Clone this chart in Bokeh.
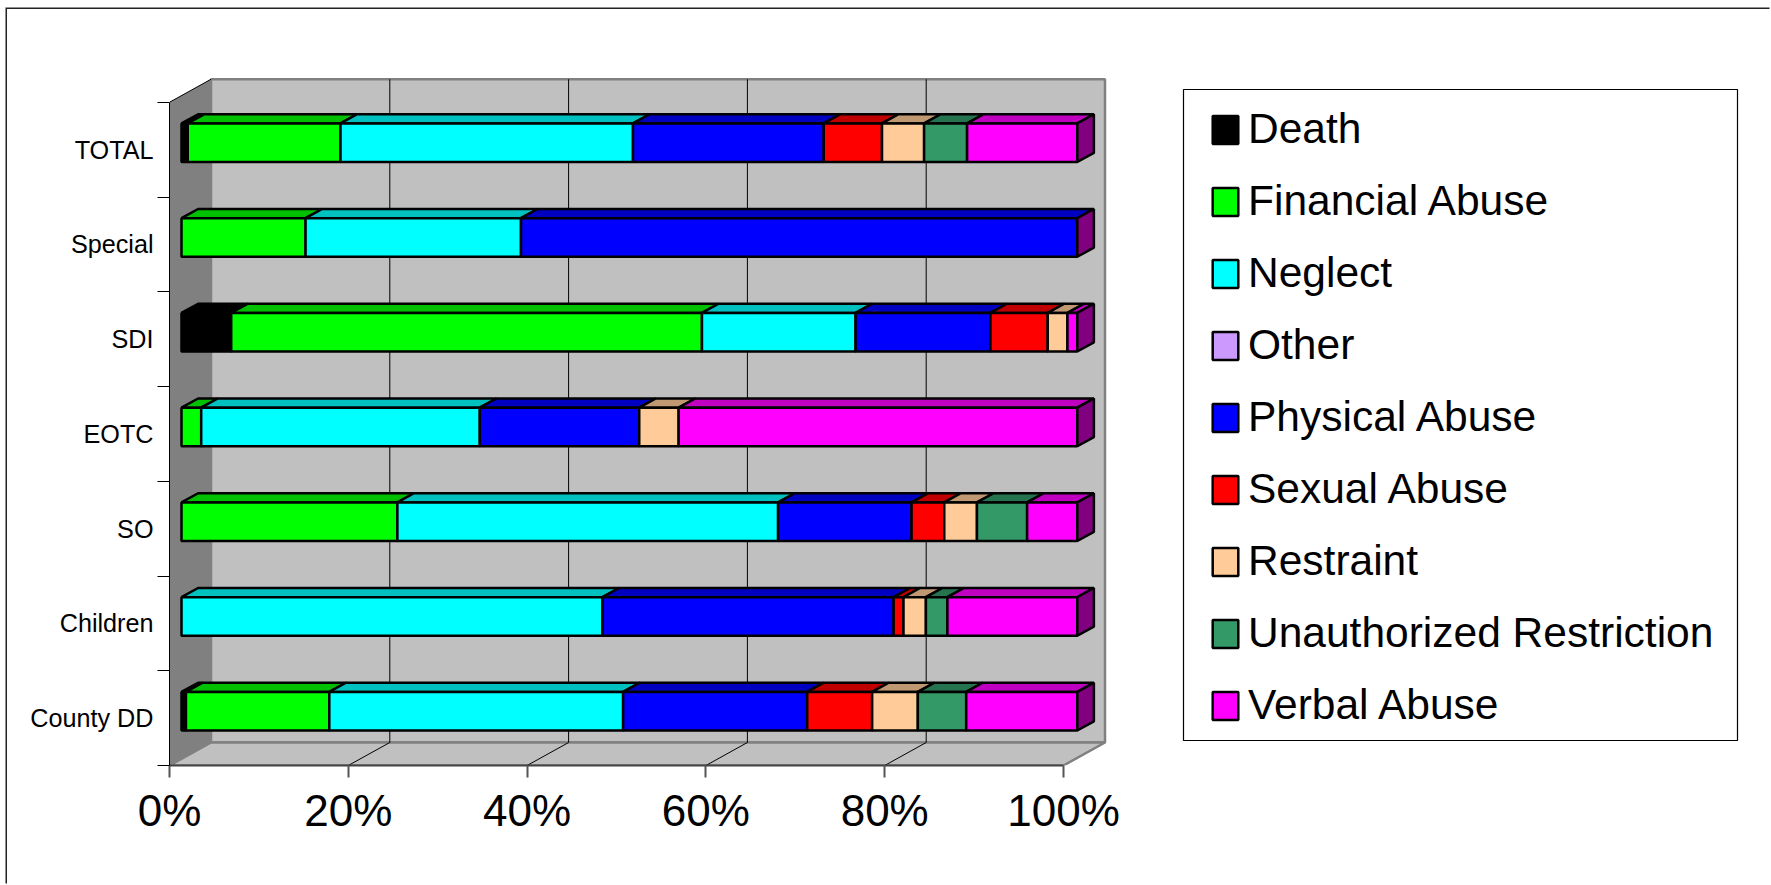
from bokeh.plotting import figure
from bokeh.embed import file_html
from bokeh.resources import INLINE
from bokeh.models import (Range1d, FixedTicker, PrintfTickFormatter, LinearAxis, Legend, LegendItem,
                          BoxAnnotation, ColumnDataSource)

categories = ["TOTAL", "Special", "SDI", "EOTC", "SO", "Children", "County DD"]
series_names = ["Death", "Financial Abuse", "Neglect", "Other", "Physical Abuse",
                "Sexual Abuse", "Restraint", "Unauthorized Restriction", "Verbal Abuse"]
death      = [0.7, 0.0, 5.55, 0.0, 0.0, 0.0, 0.5]
financial  = [17.05, 13.85, 52.55, 2.2, 24.1, 0.0, 16.0]
neglect    = [32.65, 24.05, 17.15, 31.1, 42.5, 47.0, 32.8]
other      = [0.0, 0.0, 0.0, 0.0, 0.0, 0.0, 0.0]
physical   = [21.3, 62.1, 15.05, 17.8, 14.9, 32.5, 20.55]
sexual     = [6.5, 0.0, 6.4, 0.0, 3.65, 1.1, 7.25]
restraint  = [4.7, 0.0, 2.2, 4.4, 3.65, 2.5, 5.1]
unauth     = [4.8, 0.0, 0.0, 0.0, 5.6, 2.4, 5.4]
verbal     = [12.3, 0.0, 1.1, 44.5, 5.6, 14.5, 12.4]
tick_values = [0, 20, 40, 60, 80, 100]

series_values = [death, financial, neglect, other, physical, sexual, restraint, unauth, verbal]
front_colors = ["#000000", "#00FF00", "#00FFFF", "#CC99FF", "#0000FF", "#FF0000", "#FFCC99", "#339966", "#FF00FF"]
top_colors   = ["#000000", "#00C000", "#00C0C0", "#9973C0", "#0000C0", "#C00000", "#C09973", "#267350", "#C000C0"]
SIDE = "#800080"
NAN = float("nan")

PX_X, PX_Y = 8.94, 94.75          # pixels per percent / per category band
DX, DY = 41.5 / PX_X, 23 / PX_Y   # depth of the box, in data units
HALF = 19.3 / PX_Y
BAR_SCALE = 1.002                 # the bars sit slightly nearer than the axis plane
FIG_X, FIG_Y = 7, 9               # where the figure starts on the page
W, H = 1771 - FIG_X, 885 - FIG_Y
LEFT, BASE = 169 - FIG_X, 765 - FIG_Y
n = len(categories)

p = figure(width=W, height=H, output_backend="svg", toolbar_location=None,
           x_range=Range1d(0, (W - LEFT) / PX_X), y_range=Range1d(0, BASE / PX_Y),
           x_axis_type=None, y_axis_type=None,
           min_border_left=LEFT, min_border_right=0, min_border_top=0, min_border_bottom=H - BASE,
           background_fill_color="white", border_fill_color="white", outline_line_color=None,
           margin=(FIG_Y, 0, 0, FIG_X),
           styles={"box-shadow": "-1.5px -1.5px 0 0 #222222"})
p.grid.visible = False

# ---- 3D box: back wall, left wall, floor
G = "#808080"
p.patch([DX, 100 + DX, 100 + DX, DX], [DY, DY, n + DY, n + DY], fill_color="#C0C0C0", line_color=G, line_width=2.5)
p.patch([0, DX, DX, 0], [0, DY, n + DY, n], fill_color=G, line_color=None)
p.patch([0, 100, 100 + DX, DX], [0, 0, DY, DY], fill_color="#C0C0C0", line_color=G, line_width=2.5)
p.segment([0], [n], [DX], [n + DY], line_color="#000000", line_width=1)
inner = [t for t in tick_values if 0 < t < 100]
p.segment([t + DX for t in inner], [DY] * len(inner), [t + DX for t in inner], [n + DY] * len(inner),
          line_color="#000000", line_width=1)
p.segment(inner, [0] * len(inner), [t + DX for t in inner], [DY] * len(inner), line_color="#000000", line_width=1)

# ---- bars
rows = [n - 1 - i + 0.5 for i in range(n)]
cum = [0.0] * n
items = []
ox0, oy0 = 12 / PX_X, 6.9 / PX_Y
ox1, oy1 = 28.6 / PX_X, 16.1 / PX_Y
LW = 2.5
for name, vals, fc, tc in zip(series_names, series_values, front_colors, top_colors):
    l, r, t, b, tx, ty = [], [], [], [], [], []
    for i, v in enumerate(vals):
        if v <= 0:
            l.append(NAN); r.append(NAN); t.append(NAN); b.append(NAN)
            continue
        a, z = cum[i] * BAR_SCALE, (cum[i] + v) * BAR_SCALE
        cum[i] += v
        yt = rows[i] + HALF + oy0
        yb = rows[i] - HALF + oy0
        l.append(a + ox0); r.append(z + ox0); t.append(yt); b.append(yb)
        dxx, dyy = ox1 - ox0, oy1 - oy0
        tx.append([a + ox0, z + ox0, z + ox0 + dxx, a + ox0 + dxx])
        ty.append([yt, yt, yt + dyy, yt + dyy])
    if tx:
        p.patches(tx, ty, fill_color=tc, line_color="#000000", line_width=LW)
    src = ColumnDataSource(dict(left=l, right=r, top=t, bottom=b))
    rq = p.quad(left="left", right="right", top="top", bottom="bottom", source=src, fill_color=fc,
                line_color="#000000", line_width=LW)
    items.append(LegendItem(label=name, renderers=[rq], index=0))

sx, sy = [], []
for i in range(n):
    yt = rows[i] + HALF + oy0
    yb = rows[i] - HALF + oy0
    e0 = cum[i] * BAR_SCALE + ox0
    e1 = cum[i] * BAR_SCALE + ox1
    d = oy1 - oy0
    sx.append([e0, e1, e1, e0])
    sy.append([yt, yt + d, yb + d, yb])
p.patches(sx, sy, fill_color=SIDE, line_color="#000000", line_width=LW)

# ---- axes
FONT = "Liberation Sans"
xaxis = LinearAxis(ticker=FixedTicker(ticks=tick_values, minor_ticks=[]), formatter=PrintfTickFormatter(format="%d%%"),
                   bounds=(0, 100))
xaxis.major_label_text_font = FONT
xaxis.major_label_text_font_size = "44px"
xaxis.major_label_text_color = "#000000"
xaxis.major_tick_out = 12
xaxis.major_tick_in = 0
xaxis.major_tick_line_color = "#555555"
xaxis.major_tick_line_width = 2
xaxis.axis_line_color = "#444444"
xaxis.axis_line_width = 2
xaxis.major_label_standoff = 8
p.add_layout(xaxis, "below")

yaxis = LinearAxis(ticker=FixedTicker(ticks=rows, minor_ticks=list(range(n + 1))), bounds=(0, n))
yaxis.major_label_overrides = {rows[i]: categories[i] for i in range(n)}
yaxis.major_label_text_font = FONT
yaxis.major_label_text_font_size = "25.2px"
yaxis.major_label_text_color = "#000000"
yaxis.major_tick_out = 0
yaxis.major_tick_in = 0
yaxis.minor_tick_out = 12
yaxis.minor_tick_in = 0
yaxis.minor_tick_line_color = "#000000"
yaxis.axis_line_color = "#000000"
yaxis.major_label_standoff = 4
p.add_layout(yaxis, "left")

# ---- legend box and legend
p.add_layout(BoxAnnotation(left=1183 - FIG_X, right=1737 - FIG_X, top=89 - FIG_Y, bottom=740 - FIG_Y,
                           left_units="canvas", right_units="canvas", top_units="canvas", bottom_units="canvas",
                           fill_color="white", fill_alpha=1, line_color="#000000", line_alpha=1, line_width=1.2,
                           level="underlay"))
legend = Legend(items=items, location=(1040, 36), orientation="vertical", margin=0, padding=24,
                spacing=24, glyph_width=32, glyph_height=35, label_standoff=7, label_height=28,
                label_text_font=FONT, label_text_font_size="42.5px", label_text_color="#000000",
                border_line_color=None, background_fill_alpha=0)
p.add_layout(legend, "center")

open("out.html", "w").write(file_html(p, INLINE))
